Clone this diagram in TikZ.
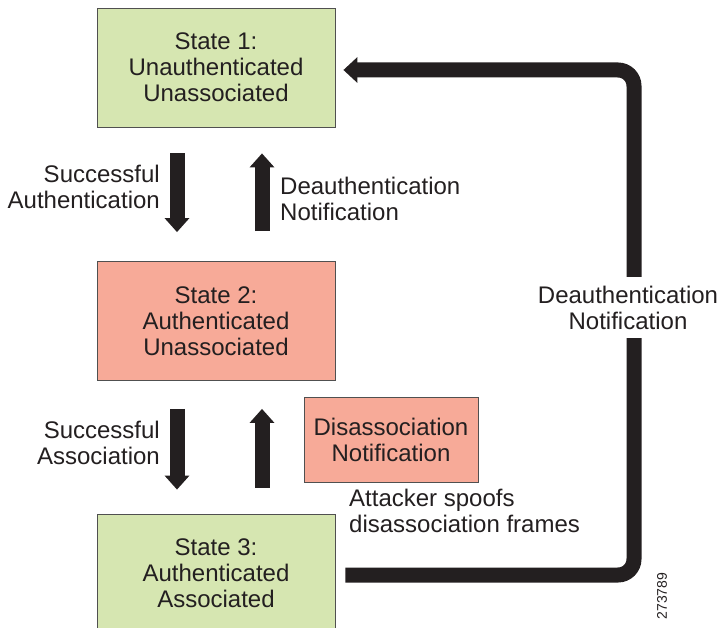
\documentclass[tikz,border=0pt]{standalone}
\usepackage{fontspec}
\setmainfont{Liberation Sans}
\usetikzlibrary{arrows.meta,calc}
\definecolor{boxgreen}{RGB}{214,230,177}
\definecolor{boxred}{RGB}{247,170,152}
\definecolor{ink}{RGB}{35,31,32}
\definecolor{edge}{RGB}{80,80,80}
\tikzset{
  statebox/.style={draw=edge, line width=0.8pt, minimum width=238pt, minimum height=119pt,
    inner sep=0pt, align=center, font=\fontsize{24}{26}\selectfont, text=ink},
  lbl/.style={inner sep=0pt, font=\fontsize{24}{26}\selectfont, text=ink},
  fatarrow/.style={draw=ink, line width=15pt, -{Triangle[width=24pt,length=14pt]}},
  loopline/.style={draw=ink, line width=15pt, rounded corners=16pt, -{Triangle[width=25pt,length=14pt]}}
}
\begin{document}
\begin{tikzpicture}[x=1pt,y=-1pt]
\useasboundingbox (0,0) rectangle (720,628);
\node[statebox, fill=boxgreen] (s1) at (216,67.5) {State 1:\\Unauthenticated\\Unassociated};
\node[statebox, fill=boxred] (s2) at (216,321) {State 2:\\Authenticated\\Unassociated};
\node[statebox, fill=boxgreen] (s3) at (216,573.5) {State 3:\\Authenticated\\Associated};
\node[statebox, fill=boxred, minimum width=174pt, minimum height=85pt] (dn) at (391,439.5) {Disassociation\\Notification};

% arrows between states 1 and 2
\draw[fatarrow] ([xshift=-39pt,yshift=-26pt]s1.south) -- ([xshift=-39pt,yshift=29pt]s2.north);
\draw[fatarrow] ([xshift=46pt,yshift=30pt]s2.north) -- ([xshift=46pt,yshift=-26pt]s1.south);
% arrows between states 2 and 3
\draw[fatarrow] ([xshift=-39pt,yshift=-28pt]s2.south) -- ([xshift=-39pt,yshift=24pt]s3.north);
\draw[fatarrow] ([xshift=46pt,yshift=26pt]s3.north) -- ([xshift=46pt,yshift=-28pt]s2.south);

\node[lbl, align=right, anchor=east] (la) at (160,187) {Successful\\Authentication};
\node[lbl, align=left, anchor=west] (lb) at (280,199) {Deauthentication\\Notification};
\node[lbl, align=right, anchor=east] (lc) at (160,443) {Successful\\Association};
\node[lbl, align=left, anchor=west] (ld) at (349,511) {Attacker spoofs\\disassociation frames};

% loop back from state 3 to state 1
\coordinate (rc) at (634,300);
\draw[loopline] ([xshift=10pt,yshift=-1.5pt]s3.east) -- ([yshift=-1.5pt]s3.east -| rc) -- ([yshift=-2.5pt]s1.east -| rc) -- ([xshift=8pt,yshift=-2.5pt]s1.east);
\node[lbl, align=center, fill=white, minimum height=61pt] (le) at (628,307.5) {Deauthentication\\Notification};

\node[inner sep=0pt, rotate=90, font=\fontsize{14}{16}\selectfont, text=ink] (id) at (662,596) {273789};
\end{tikzpicture}
\end{document}
